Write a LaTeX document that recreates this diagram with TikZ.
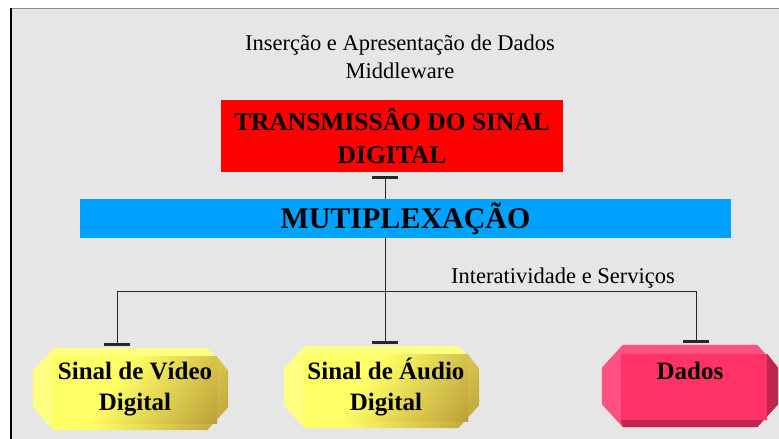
\documentclass[tikz,border=0pt]{standalone}
\usepackage{fontspec}
\setmainfont{Liberation Serif}
\usetikzlibrary{arrows.meta,calc}
\pgfdeclarelayer{background}
\pgfsetlayers{background,main}
\definecolor{bggray}{RGB}{230,230,230}
\definecolor{muxblue}{RGB}{0,162,255}
\definecolor{plqyellow}{RGB}{255,255,102}
\definecolor{plqgold}{RGB}{165,124,42}
\definecolor{plqlight}{RGB}{255,255,130}
\definecolor{dadospink}{RGB}{255,51,102}
\definecolor{dadoslight}{RGB}{255,82,128}
\definecolor{dadosdark}{RGB}{192,38,78}
\pgfdeclarehorizontalshading{goldface}{100bp}{color(0bp)=(plqyellow); color(42bp)=(plqyellow); color(100bp)=(plqgold)}
% beveled plaque behind a node: node, light facets, dark facets, face
\newcommand{\bevel}[4]{%
  \fill[#2] let \p1=(#1.north west), \p2=(#1.south east) in
    (\x1+21pt,\y1) -- (\x2-21pt,\y1) -- (\x2,\y1-23pt) -- (\x2,\y2+23pt) -- (\x2-21pt,\y2)
    -- (\x1+21pt,\y2) -- (\x1,\y2+23pt) -- (\x1,\y1-23pt) -- cycle;
  \path[#3] let \p1=(#1.north west), \p2=(#1.south east) in
    (\x2,\y1-23pt) -- (\x2,\y2+23pt) -- (\x2-21pt,\y2) -- (\x1+21pt,\y2) -- (\x1+19pt,\y2+7pt)
    -- (\x2-11pt,\y2+7pt) -- (\x2-11pt,\y1-9pt) -- cycle;
  \path[#4] let \p1=(#1.north west), \p2=(#1.south east) in
    (\x1+19pt,\y1-9pt) rectangle (\x2-11pt,\y2+7pt);
}
\begin{document}
\begin{tikzpicture}[x=1pt, y=-1pt, every text node part/.style={align=center}]
        \tikzset{
          plaque/.style={inner sep=0pt, minimum width=195pt, minimum height=82pt,
            font=\fontsize{25}{31}\selectfont\bfseries},
          goldshade/.style={shade, shading=goldface, shading angle=-35},
          busline/.style={draw=black!85, line width=0.9pt},
          tapline/.style={busline, -{Bar[width=26pt,line width=3pt]}, shorten >=2pt},
          plain/.style={font=\fontsize{22.5}{28}\selectfont},
        }
        \useasboundingbox (0,0) rectangle (779,439);
        \begin{pgfonlayer}{background}
          \fill[bggray] (11,8) rectangle (779,439);
          \draw[black!45, line width=1pt] (11,8) -- (779,8);
          \draw[black, line width=1.2pt] (11,439) -- (11,8);
        \end{pgfonlayer}
        \node[plain] (title) at (400,57) {Inserção e Apresentação de Dados\\Middleware};
        \node[fill=red, inner sep=0pt, minimum width=342pt, minimum height=72pt,
          font=\fontsize{25.5}{33}\selectfont\bfseries] (trans) at (392,136)
          {TRANSMISSÂO DO SINAL\\DIGITAL};
        \node[fill=muxblue, inner sep=0pt, minimum width=651pt, minimum height=39pt,
          font=\fontsize{30}{36}\selectfont\bfseries] (mux) at (405.5,218.5) {MUTIPLEXAÇÃO};
        \node[plain] (inter) at (563,278) {Interatividade e Serviços};
        % 
        \node[plaque] (video) at (130.5,389) {\hspace*{9pt}Sinal de Vídeo\\\hspace*{9pt}Digital};
        \node[plaque] (audio) at (381.5,387) {\hspace*{9pt}Sinal de Áudio\\\hspace*{9pt}Digital};
        \node[plaque, minimum width=176pt, text depth=31pt] (dados) at (690,386) {Dados};
        \begin{pgfonlayer}{background}
          \bevel{video}{plqlight}{goldshade}{goldshade}
          \bevel{audio}{plqlight}{goldshade}{goldshade}
          \bevel{dados}{dadoslight}{fill=dadosdark}{fill=dadospink}
        \end{pgfonlayer}
        % 
        \coordinate (trunk) at (385,291);
        \coordinate (busL) at (117,291);
        \coordinate (busR) at (696,291);
        \draw[busline, {Bar[width=26pt,line width=3pt]}-, shorten <=4pt] (trunk |- trans.south) -- (trunk |- mux.north);
        \draw[busline] (busL) -- (busR);
        \draw[tapline] (trunk |- mux.south) -- (trunk |- audio.north);
        \draw[tapline] (busL) -- (busL |- video.north);
        \draw[tapline] (busR) -- (busR |- dados.north);
    \end{tikzpicture}
\end{document}
